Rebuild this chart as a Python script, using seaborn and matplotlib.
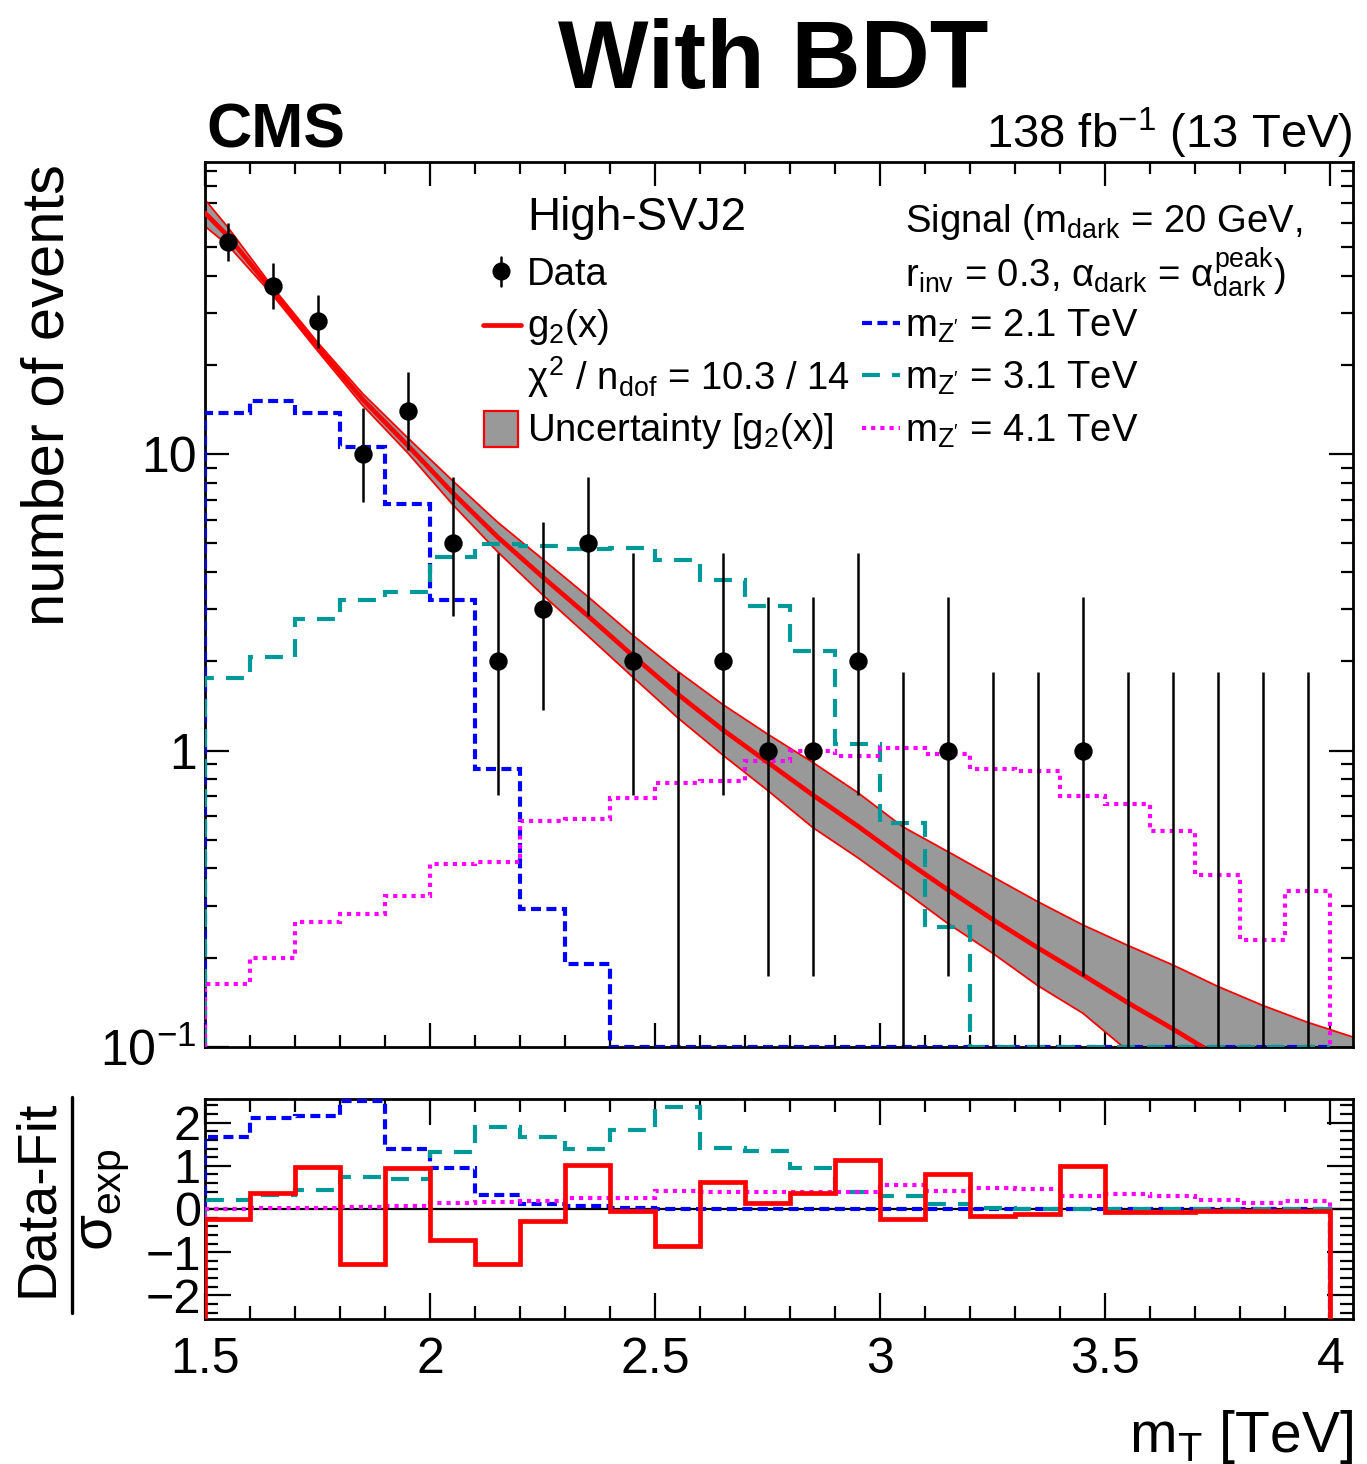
import numpy as np
import pandas as pd
import seaborn as sns
import matplotlib
matplotlib.use("Agg")
import matplotlib.pyplot as plt
from matplotlib.lines import Line2D
from matplotlib.patches import Rectangle
from matplotlib.ticker import FixedLocator, MultipleLocator, NullFormatter, FixedFormatter, FuncFormatter

# ---------------- data ----------------
bin_edges = np.linspace(1.5, 4.0, 26)
bin_centers = 0.5 * (bin_edges[:-1] + bin_edges[1:])

data_counts = [52, 37, 28, 10, 14, 5, 2, 3, 5, 2, 0, 2, 1, 1, 2, 0, 1, 0, 0, 1, 0, 0, 0, 0, 0]
# Garwood (68%) Poisson intervals: count -> (err_low, err_high)
garwood = {0: (0.0, 1.841), 1: (0.827, 2.300), 2: (1.292, 2.638), 3: (1.633, 2.918),
           5: (2.158, 3.382), 10: (3.108, 4.262), 14: (3.704, 4.839), 28: (5.246, 6.335),
           37: (6.055, 7.137), 52: (7.187, 8.260)}

sig_2p1 = [13.7, 15.1, 13.7, 10.6, 6.8, 3.21, 0.863, 0.292, 0.19,
           0, 0, 0, 0, 0, 0, 0, 0, 0, 0, 0, 0, 0, 0, 0, 0]
sig_3p1 = [1.76, 2.07, 2.77, 3.23, 3.42, 4.48, 4.98, 4.91, 4.78, 4.82, 4.38, 3.77, 3.07,
           2.16, 1.05, 0.569, 0.253, 0, 0, 0, 0, 0, 0, 0, 0]
sig_4p1 = [0.163, 0.199, 0.263, 0.281, 0.324, 0.413, 0.42, 0.578, 0.589, 0.69, 0.78, 0.79,
           0.92, 1.0, 0.955, 1.02, 0.97, 0.865, 0.856, 0.70, 0.66, 0.537, 0.379, 0.229, 0.336]

fit_x = [1.50, 1.55, 1.65, 1.75, 1.85, 1.95, 2.05, 2.15, 2.25, 2.35, 2.45, 2.55, 2.65, 2.75,
         2.85, 2.95, 3.05, 3.15, 3.25, 3.35, 3.45, 3.55, 3.65, 3.75, 3.85, 3.95, 4.05]
fit_center = [65, 54.5, 35.5, 23.0, 15.3, 10.7, 7.4, 5.25, 3.85, 2.85, 2.09, 1.55, 1.175, 0.912,
              0.708, 0.556, 0.431, 0.339, 0.269, 0.216, 0.175, 0.141, 0.115, 0.093]
fit_upper = [72.1, 58.4, 36.6, 23.8, 16.0, 11.35, 8.13, 5.89, 4.42, 3.31, 2.45, 1.85, 1.43, 1.135,
             0.912, 0.721, 0.553, 0.456, 0.375, 0.309, 0.258, 0.220, 0.189, 0.160, 0.138, 0.121, 0.108]
fit_lower = [58.6, 50.8, 34.4, 22.3, 14.6, 10.1, 6.76, 4.68, 3.35, 2.44, 1.77, 1.29, 0.966, 0.733,
             0.55, 0.435, 0.338, 0.261, 0.207, 0.161, 0.130, 0.097, 0.080, 0.066, 0.054, 0.045, 0.038]

pull_fit = [-0.23, 0.37, 0.97, -1.28, 0.94, -0.72, -1.28, -0.28, 1.01, -0.04, -0.85, 0.63, 0.13,
            0.37, 1.13, -0.23, 0.81, -0.16, -0.12, 1.0, -0.07, -0.06, -0.045, -0.045, -0.045]
pull_2p1 = [1.67, 2.12, 2.15, 2.5, 1.39, 0.96, 0.33, 0.12, 0.07, 0.02,
            0.01, 0.01, 0.01, 0.01, 0.01, 0.01, 0.01, 0.01, 0.01, 0.01, 0.01, 0.01, 0.01, 0.01, 0.01]
pull_3p1 = [0.2, 0.33, 0.43, 0.75, 0.70, 1.32, 1.90, 1.66, 1.40, 1.82, 2.37, 1.41, 1.34, 0.95,
            0.39, 0.31, 0.11, 0.015, 0.01, 0.01, 0.01, 0.01, 0.01, 0.01, 0.01]
pull_4p1 = [0.01, 0.02, 0.03, 0.04, 0.06, 0.13, 0.16, 0.18, 0.25, 0.25, 0.42, 0.39, 0.39, 0.40,
            0.39, 0.55, 0.42, 0.48, 0.46, 0.31, 0.34, 0.30, 0.2, 0.13, 0.18]

x_ticks = [1.5, 2.0, 2.5, 3.0, 3.5, 4.0]
x_ticklabels = ["1.5", "2", "2.5", "3", "3.5", "4"]

# ---------------- style ----------------
sns.set_style("ticks")
plt.rcParams["font.family"] = ["Liberation Sans", "DejaVu Sans"]
plt.rcParams["mathtext.fontset"] = "custom"
plt.rcParams["mathtext.rm"] = "Liberation Sans"
plt.rcParams["mathtext.it"] = "Liberation Sans"
plt.rcParams["mathtext.sf"] = "Liberation Sans"
plt.rcParams["mathtext.bf"] = "Liberation Sans:bold"
plt.rcParams["axes.linewidth"] = 2.0
for k in ["text.color", "axes.labelcolor", "xtick.color", "ytick.color", "axes.edgecolor"]:
    plt.rcParams[k] = "black"

BLUE = "#0000ff"
TEAL = "#009999"
MAG = "#ff00ff"
RED = "#ff0000"
GRAY = "#999999"
LS_BLUE = (0, (2.4, 1.3))
LS_TEAL = (0, (4.3, 2.9))
LS_MAG = (0, (1.0, 1.2))
LW_SIG = 3.0

W, H = 1367, 1464
fig = plt.figure(figsize=(W / 100, H / 100), dpi=100)


def fx(p):
    return p / W


def fy(p):
    return 1 - p / H


ax = fig.add_axes([fx(205), fy(1047), fx(1353) - fx(205), fy(162) - fy(1047)])
rax = fig.add_axes([fx(205), fy(1319), fx(1353) - fx(205), fy(1099) - fy(1319)])

YMIN, YMAX = 0.1, 96.6
ax.set_yscale("log")
ax.set_xlim(1.5, 4.05)
ax.set_ylim(YMIN, YMAX)

# uncertainty band
ax.fill_between(fit_x, fit_lower, fit_upper, color=GRAY, lw=0, zorder=1)
ax.plot(fit_x, fit_upper, color=RED, lw=1.3, zorder=2)
ax.plot(fit_x, fit_lower, color=RED, lw=1.3, zorder=2)

# fit line
df_fit = pd.DataFrame({"x": fit_x[:len(fit_center)], "y": fit_center})
sns.lineplot(data=df_fit, x="x", y="y", ax=ax, color=RED, lw=3.4, zorder=4,
             estimator=None, sort=False, legend=False)

# signals
for vals, col, ls in [(sig_2p1, BLUE, LS_BLUE), (sig_3p1, TEAL, LS_TEAL), (sig_4p1, MAG, LS_MAG)]:
    v = np.maximum(np.array(vals, float), YMIN)
    ax.stairs(v, bin_edges, baseline=YMIN, fill=False, edgecolor=col, linestyle=ls,
              lw=LW_SIG, zorder=3)

# data
counts = np.array(data_counts, float)
elo = np.array([garwood[int(c)][0] for c in data_counts])
ehi = np.array([garwood[int(c)][1] for c in data_counts])
lo = counts - elo
lo = np.where(lo > 0, lo, YMIN)
ax.vlines(bin_centers, lo, counts + ehi, color="k", lw=1.8, zorder=5)
df_data = pd.DataFrame({"x": bin_centers[counts > 0], "y": counts[counts > 0]})
sns.scatterplot(data=df_data, x="x", y="y", ax=ax, color="k", s=175, linewidth=0,
                zorder=6, legend=False)

ax.set_xlabel("")
ax.set_ylabel("")
ax.xaxis.set_major_locator(FixedLocator(x_ticks))
ax.xaxis.set_minor_locator(MultipleLocator(0.1))
ax.xaxis.set_major_formatter(NullFormatter())
ax.yaxis.set_major_locator(FixedLocator([0.1, 1, 10]))
ax.yaxis.set_major_formatter(FixedFormatter([r"$10^{-1}$", "1", "10"]))
minors = [m * d for d in (0.1, 1, 10) for m in range(2, 10)]
ax.yaxis.set_minor_locator(FixedLocator(minors))
ax.yaxis.set_minor_formatter(NullFormatter())
ax.tick_params(which="both", direction="in", top=True, right=True, width=1.6)
ax.tick_params(which="major", length=17)
ax.tick_params(which="minor", length=8.5)
ax.tick_params(axis="y", which="major", labelsize=36, pad=6)

# ratio panel
rax.set_xlim(1.5, 4.05)
rax.set_ylim(-2.55, 2.55)
for vals, col, ls in [(pull_2p1, BLUE, LS_BLUE), (pull_3p1, TEAL, LS_TEAL), (pull_4p1, MAG, LS_MAG)]:
    rax.stairs(vals, bin_edges, baseline=-2.55, fill=False, edgecolor=col, linestyle=ls,
               lw=LW_SIG, zorder=3)
rax.axhline(0, color="k", lw=1.6, zorder=2)
rax.stairs(pull_fit, bin_edges, baseline=-2.55, fill=False, edgecolor=RED, lw=3.4, zorder=4)
rax.xaxis.set_major_locator(FixedLocator(x_ticks))
rax.xaxis.set_minor_locator(MultipleLocator(0.1))
rax.xaxis.set_major_formatter(FixedFormatter(x_ticklabels))
rax.yaxis.set_major_locator(FixedLocator([-2, -1, 0, 1, 2]))
rax.yaxis.set_minor_locator(MultipleLocator(0.2))
rax.yaxis.set_major_formatter(FuncFormatter(lambda v, p: f"{int(round(v))}".replace("-", "\u2212")))
rax.tick_params(which="both", direction="in", top=True, right=True, width=1.6)
rax.tick_params(which="major", length=19)
rax.tick_params(which="minor", length=9.5)
rax.tick_params(axis="x", which="major", labelsize=36, pad=13)
rax.tick_params(axis="y", which="major", labelsize=35, pad=3)
rax.set_xlabel("")
rax.set_ylabel("")

# ---------------- texts ----------------
fig.text(fx(773), fy(88), "With BDT", fontsize=69, fontweight="bold", ha="center", va="baseline")
fig.text(fx(206), fy(148), "CMS", fontsize=45, fontweight="bold", ha="left", va="baseline")
fig.text(fx(1353), fy(148), r"138 fb$^{-1}$ (13 TeV)", fontsize=34, ha="right", va="baseline")
fig.text(fx(20), fy(164), "number of events", fontsize=43, rotation=90, ha="left", va="top")
fig.text(fx(1353), fy(1452), r"m$_{\mathrm{T}}$ [TeV]", fontsize=41, ha="right", va="baseline")

# ratio y label (fraction)
fig.text(fx(38), fy(1198), "Data-Fit", fontsize=40, rotation=90, ha="center", va="center")
fig.add_artist(Line2D([fx(72), fx(72)], [fy(1097), fy(1313)], color="k", lw=2.4))
fig.text(fx(104), fy(1200), r"$\sigma_{\mathrm{exp}}$", fontsize=42, rotation=90, ha="center", va="center")

# legend (left column)
LFS = 27.5
fig.text(fx(527), fy(230), "High-SVJ2", fontsize=33, ha="left", va="baseline")
fig.text(fx(527), fy(285), "Data", fontsize=LFS, ha="left", va="baseline")
fig.add_artist(Line2D([fx(501), fx(501)], [fy(257), fy(286)], color="k", lw=1.8))
fig.add_artist(Line2D([fx(501)], [fy(271)], marker="o", ms=12, color="k", lw=0))
fig.text(fx(527), fy(337), r"g$_{2}$(x)", fontsize=LFS, ha="left", va="baseline")
fig.add_artist(Line2D([fx(483), fx(521)], [fy(325), fy(325)], color=RED, lw=3.4))
fig.text(fx(527), fy(390), r"$\chi^{2}$ / n$_{\mathrm{dof}}$ = 10.3 / 14", fontsize=LFS,
         ha="left", va="baseline")
fig.text(fx(527), fy(441), r"Uncertainty [g$_{2}$(x)]", fontsize=LFS, ha="left", va="baseline")
fig.add_artist(Rectangle((fx(484), fy(447)), fx(518) - fx(484), fy(411) - fy(447),
                         transform=fig.transFigure, facecolor=GRAY, edgecolor=RED, lw=1.6))

# legend (right column)
fig.text(fx(905), fy(232), r"Signal (m$_{\mathrm{dark}}$ = 20 GeV,", fontsize=LFS, ha="left", va="baseline")
fig.text(fx(905), fy(287),
         r"r$_{\mathrm{inv}}$ = 0.3, $\alpha_{\mathrm{dark}}$ = $\alpha^{\mathrm{peak}}_{\mathrm{dark}}$)",
         fontsize=LFS, ha="left", va="baseline")
for ypx, lab, col, ls in [(323, "2.1", BLUE, LS_BLUE), (375, "3.1", TEAL, LS_TEAL), (428, "4.1", MAG, LS_MAG)]:
    fig.add_artist(Line2D([fx(862), fx(900)], [fy(ypx), fy(ypx)], color=col, ls=ls, lw=LW_SIG))
    fig.text(fx(905), fy(ypx + 14), r"m$_{\mathrm{Z'}}$ = " + lab + " TeV", fontsize=LFS,
             ha="left", va="baseline")

fig.savefig("out.png", dpi=100)
